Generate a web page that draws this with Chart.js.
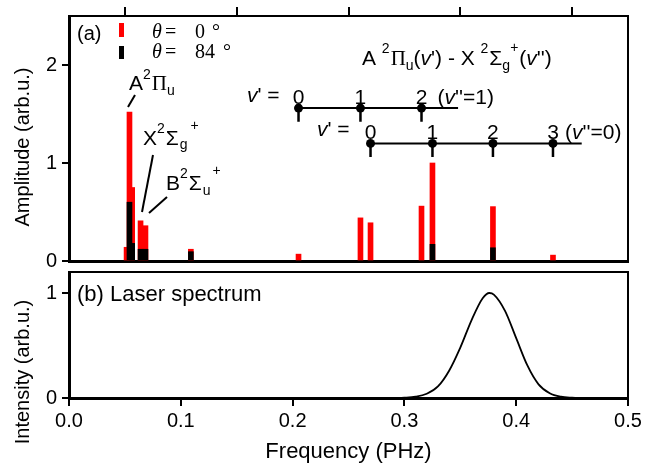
<!DOCTYPE html>
<html><head><meta charset="utf-8">
<script src="https://cdn.jsdelivr.net/npm/chart.js@4.4.1/dist/chart.umd.min.js"></script>
<style>
html,body{margin:0;padding:0;background:#fff;}
#wrap{position:relative;width:657px;height:471px;overflow:hidden;}
canvas{position:absolute;left:0;}
</style></head><body>
<div id="wrap">
<canvas id="c1" width="657" height="272" style="top:0px"></canvas>
<canvas id="c2" width="657" height="205" style="top:266px"></canvas>
</div>
<script>
const SANS = '"Liberation Sans", Arial, sans-serif';
const SERIF = '"Liberation Serif", "Times New Roman", serif';

// ---- Panel (a): line positions (PHz) and amplitudes (arb.u.)
const freqRed   = [0.0515, 0.0565, 0.0541, 0.0640, 0.0684, 0.1090, 0.2053, 0.2607, 0.2697, 0.3153, 0.3251, 0.3792, 0.4329];
const ampRed    = [0.14,   0.75,   1.52,   0.41,   0.36,   0.12,   0.07,   0.44,   0.39,   0.56,   1.00,   0.555,  0.06];
const freqBlack = [0.0565, 0.0541, 0.0640, 0.0684, 0.1090, 0.3251, 0.3792];
const ampBlack  = [0.18,   0.60,   0.12,   0.12,   0.095,  0.17,   0.135];

// vibrational progressions A(v') - X(v''), marker frequencies (PHz)
const ladderV1Freq = [0.2053, 0.2607, 0.3153];          // v' = 0,1,2 (v''=1)
const ladderV1Labels = ['0', '1', '2'];
const ladderV1End = 0.348;
const ladderV0Freq = [0.2697, 0.3251, 0.3792, 0.4329];  // v' = 0,1,2,3 (v''=0)
const ladderV0Labels = ['0', '1', '2', '3'];
const ladderV0End = 0.4586;
const ladderV1Level = 1.56, ladderV0Level = 1.20, stubDrop = 0.14;

// ---- Panel (b): laser spectrum
const laserFreq = [0.29, 0.30, 0.31, 0.32, 0.33, 0.34, 0.35, 0.36, 0.37, 0.376, 0.38, 0.39, 0.40, 0.41, 0.42, 0.43, 0.44, 0.45, 0.46];
const laserInt  = [0.0,  0.003, 0.012, 0.04, 0.11, 0.26, 0.48, 0.74, 0.95, 1.0,  0.985, 0.83, 0.57, 0.31, 0.13, 0.045, 0.012, 0.003, 0.0];

const xTicks = [0.0, 0.1, 0.2, 0.3, 0.4, 0.5];

const FA = '21px ' + SANS;
const FS = '14px ' + SANS;
const FI = 'italic 21px ' + SANS;
const FPI = '21px ' + SERIF;

function rich(ctx, x, y, parts) {
  let cx = x;
  for (const p of parts) {
    ctx.font = p[1];
    ctx.fillText(p[0], cx, y + (p[2] || 0));
    cx += ctx.measureText(p[0]).width + (p[3] || 0);
  }
  return cx;
}
function line(ctx, x1, y1, x2, y2, w) {
  ctx.beginPath(); ctx.lineWidth = w; ctx.strokeStyle = '#000';
  ctx.moveTo(x1, y1); ctx.lineTo(x2, y2); ctx.stroke();
}
function vtitle(ctx, text, x, y) {
  ctx.save();
  ctx.translate(x, y); ctx.rotate(-Math.PI / 2);
  ctx.font = '20px ' + SANS; ctx.fillStyle = '#000'; ctx.textAlign = 'center'; ctx.textBaseline = 'middle';
  ctx.fillText(text, 0, 0);
  ctx.restore();
}
const intOnly = s => { s.ticks = s.ticks.filter(t => Math.abs(t.value - Math.round(t.value)) < 1e-9); };
const noPadV = s => { s.paddingTop = 0; s.paddingBottom = 0; };

const stubs = [];
for (const f of ladderV1Freq) { stubs.push({x: f, y: ladderV1Level}, {x: f, y: ladderV1Level - stubDrop}, {x: f, y: null}); }
for (const f of ladderV0Freq) { stubs.push({x: f, y: ladderV0Level}, {x: f, y: ladderV0Level - stubDrop}, {x: f, y: null}); }
const lad1 = ladderV1Freq.map(f => ({x: f, y: ladderV1Level})).concat([{x: ladderV1End, y: ladderV1Level}]);
const lad0 = ladderV0Freq.map(f => ({x: f, y: ladderV0Level})).concat([{x: ladderV0End, y: ladderV0Level}]);

const annotA = {
  id: 'annotA',
  afterDraw(chart) {
    const ctx = chart.ctx, xs = chart.scales.x;
    ctx.save();
    ctx.fillStyle = '#000'; ctx.textBaseline = 'alphabetic'; ctx.textAlign = 'left';
    // panel label
    ctx.font = '20px ' + SANS; ctx.fillText('(a)', 77, 40);
    // legend
    ctx.fillStyle = '#ff0000'; ctx.fillRect(119, 23, 5, 14);
    ctx.fillStyle = '#000'; ctx.fillRect(119, 46, 5, 13);
    ctx.font = 'italic 20px ' + SERIF; ctx.fillText('θ', 152, 38); ctx.fillText('θ', 152, 58);
    ctx.font = '20px ' + SERIF;
    ctx.fillText('=', 165, 38); ctx.fillText('=', 165, 58);
    ctx.fillText('0', 195, 38); ctx.fillText('°', 212, 38);
    ctx.fillText('84', 195, 58); ctx.fillText('°', 223, 58);
    // state labels
    rich(ctx, 129, 90, [['A', FA], ['2', FS, -11, 1], ['Π', FPI], ['u', FS, 5]]);
    line(ctx, 135, 95, 128, 107, 2);
    rich(ctx, 143, 145, [['X', FA], ['2', FS, -12, 1], ['Σ', FA, 0, 1], ['g', FS, 4, 3], ['+', FS, -15]]);
    line(ctx, 153, 155, 142, 212, 2);
    rich(ctx, 166, 190, [['B', FA], ['2', FS, -12, 1], ['Σ', FA, 0, 1], ['u', FS, 5, 2], ['+', FS, -15]]);
    line(ctx, 167, 197, 149, 213, 2);
    // title of progressions
    rich(ctx, 362, 65, [['A ', FA], ['2', FS, -12, 1], ['Π', FPI], ['u', FS, 5], ['(', FA], ['v', FI], ["') - X ", FA],
                        ['2', FS, -12, 1], ['Σ', FA], ['g', FS, 5], ['+', FS, -13, 1], ['(', FA], ['v', FI], ["'')", FA]]);
    // progression labels
    ctx.textAlign = 'center'; ctx.font = FA;
    ladderV1Freq.forEach((f, i) => ctx.fillText(ladderV1Labels[i], xs.getPixelForValue(f), 104));
    ladderV0Freq.forEach((f, i) => ctx.fillText(ladderV0Labels[i], xs.getPixelForValue(f), 139));
    ctx.textAlign = 'left';
    rich(ctx, 247, 102, [['v', FI], ["' =", FA]]);
    rich(ctx, 317, 136, [['v', FI], ["' =", FA]]);
    rich(ctx, xs.getPixelForValue(ladderV1Freq[2]) + 16, 104, [['(', FA], ['v', FI], ["''=1)", FA]]);
    rich(ctx, xs.getPixelForValue(ladderV0Freq[3]) + 12, 139, [['(', FA], ['v', FI], ["''=0)", FA]]);
    ctx.restore();
    vtitle(ctx, 'Amplitude (arb.u.)', 23, 147);
  }
};

new Chart(document.getElementById('c1'), {
  type: 'bar',
  data: {
    datasets: [
      { type: 'bar', label: 'θ = 0°', data: freqRed.map((x, i) => ({x, y: ampRed[i]})),
        backgroundColor: '#ff0000', barThickness: 5, grouped: false, order: 3 },
      { type: 'bar', label: 'θ = 84°', data: freqBlack.map((x, i) => ({x, y: ampBlack[i]})),
        backgroundColor: '#000000', barThickness: 5, grouped: false, order: 2 },
      { type: 'line', data: lad1, borderColor: '#000', borderWidth: 2, order: 1,
        pointRadius: c => c.dataIndex < ladderV1Freq.length ? 4.5 : 0, pointBackgroundColor: '#000', pointBorderWidth: 0 },
      { type: 'line', data: lad0, borderColor: '#000', borderWidth: 2, order: 1,
        pointRadius: c => c.dataIndex < ladderV0Freq.length ? 4.5 : 0, pointBackgroundColor: '#000', pointBorderWidth: 0 },
      { type: 'line', data: stubs, borderColor: '#000', borderWidth: 2.5, pointRadius: 0, spanGaps: false, order: 1 }
    ]
  },
  options: {
    responsive: false, animation: false, events: [],
    layout: { padding: 0 },
    plugins: { legend: { display: false }, tooltip: { enabled: false } },
    scales: {
      x: { type: 'linear', position: 'bottom', min: 0, max: 0.5, offset: false,
           ticks: { display: false }, grid: { display: false },
           border: { display: true, width: 3, color: '#000' },
           afterFit: s => { s.height = 11; s.paddingLeft = 0; s.paddingRight = 0; } },
      x2: { type: 'linear', position: 'top', min: 0, max: 0.5, offset: false,
            ticks: { display: false, stepSize: 0.1 },
            afterBuildTicks: s => { s.ticks = xTicks.map(v => ({value: v})); },
            grid: { drawOnChartArea: false, drawTicks: true, tickLength: 9, lineWidth: 2, color: '#000' },
            border: { display: true, width: 2, color: '#000' },
            afterFit: s => { s.height = 16; s.paddingLeft = 0; s.paddingRight = 0; } },
      y: { position: 'left', min: 0, max: 2.5,
           ticks: { stepSize: 1, color: '#000', font: { family: SANS, size: 20 }, padding: 5 },
           afterBuildTicks: intOnly,
           grid: { drawOnChartArea: false, drawTicks: true, tickLength: 7, lineWidth: 2, color: '#000' },
           border: { display: true, width: 3, color: '#000' },
           afterFit: s => { s.width = 69; noPadV(s); } },
      y2: { position: 'right', min: 0, max: 2.5,
            ticks: { display: false }, grid: { display: false },
            border: { display: true, width: 2, color: '#000' },
            afterFit: s => { s.width = 29; noPadV(s); } }
    }
  },
  plugins: [annotA]
});

const annotB = {
  id: 'annotB',
  afterDraw(chart) {
    const ctx = chart.ctx;
    ctx.save();
    ctx.fillStyle = '#000'; ctx.font = '22px ' + SANS; ctx.textAlign = 'left'; ctx.textBaseline = 'alphabetic';
    ctx.fillText('(b) Laser spectrum', 77, 35);
    ctx.restore();
    vtitle(ctx, 'Intensity (arb.u.)', 23, 106);
  }
};

new Chart(document.getElementById('c2'), {
  type: 'line',
  data: {
    datasets: [
      { label: 'Laser spectrum', data: laserFreq.map((x, i) => ({x, y: laserInt[i]})),
        borderColor: '#000', borderWidth: 1.8, pointRadius: 0, cubicInterpolationMode: 'monotone', fill: false }
    ]
  },
  options: {
    responsive: false, animation: false, events: [],
    layout: { padding: 0 },
    plugins: { legend: { display: false }, tooltip: { enabled: false } },
    scales: {
      x: { type: 'linear', position: 'bottom', min: 0, max: 0.5,
           afterBuildTicks: s => { s.ticks = xTicks.map(v => ({value: v})); },
           ticks: { color: '#000', font: { family: SANS, size: 20 }, padding: 3, maxRotation: 0,
                    callback: v => Number(v).toFixed(1) },
           grid: { drawOnChartArea: false, drawTicks: true, tickLength: 8, lineWidth: 2, color: '#000' },
           border: { display: true, width: 3, color: '#000' },
           title: { display: true, text: 'Frequency (PHz)', color: '#000', font: { family: SANS, size: 22 }, padding: { top: 0, bottom: 6 } },
           afterFit: s => { s.height = 73; } },
      x2: { type: 'linear', position: 'top', min: 0, max: 0.5,
            ticks: { display: false }, grid: { display: false },
            border: { display: true, width: 2, color: '#000' },
            afterFit: s => { s.height = 6; s.paddingLeft = 0; s.paddingRight = 0; } },
      y: { position: 'left', min: 0, max: 1.2,
           ticks: { stepSize: 1, color: '#000', font: { family: SANS, size: 20 }, padding: 5 },
           afterBuildTicks: intOnly,
           grid: { drawOnChartArea: false, drawTicks: true, tickLength: 7, lineWidth: 2, color: '#000' },
           border: { display: true, width: 3, color: '#000' },
           afterFit: s => { s.width = 69; noPadV(s); } },
      y2: { position: 'right', min: 0, max: 1.2,
            ticks: { display: false }, grid: { display: false },
            border: { display: true, width: 2, color: '#000' },
            afterFit: s => { s.width = 29; noPadV(s); } }
    }
  },
  plugins: [annotB]
});
</script>
</body></html>
